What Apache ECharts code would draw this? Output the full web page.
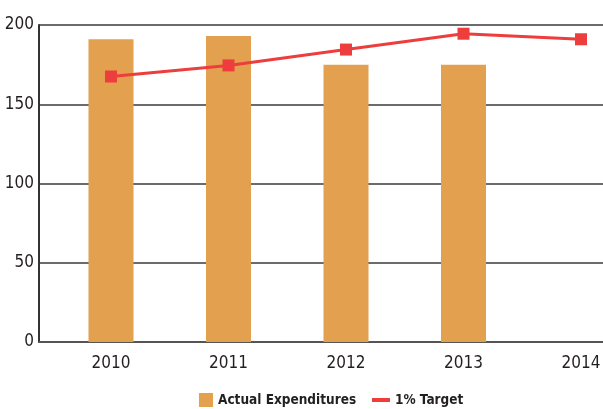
<!DOCTYPE html>
<html>
<head>
<meta charset="utf-8">
<title>Actual Expenditures vs 1% Target</title>
<script src="https://cdn.jsdelivr.net/npm/echarts@6/dist/echarts.min.js"></script>
</head>
<body style="margin:0;">
<div id="chart" style="width:603px;height:409px;"></div>
<script>
var years = ['2010', '2011', '2012', '2013', '2014'];
var actualExpenditures = [191, 193, 175, 175, null];
var onePercentTarget = [167.5, 174.5, 184.5, 194.5, 191];
var yTicks = [0, 50, 100, 150, 200];

var FONT = '"DejaVu Sans Condensed", "DejaVu Sans", sans-serif';
var TEXT = '#231f20';

var chart = echarts.init(document.getElementById('chart'), null, { renderer: 'canvas' });

chart.setOption({
    animation: false,
    backgroundColor: '#fff',
    grid: [
        // frame: y axis, gridlines and baseline
        { left: 39, right: 0, top: 25, bottom: 67, outerBoundsMode: 'none' },
        // data area: category bands (runs past the right edge)
        { left: 52.25, width: 587.5, top: 25, bottom: 67, outerBoundsMode: 'none' }
    ],
    xAxis: [
        {
            gridIndex: 0, type: 'value', min: 0, max: 1,
            axisLine: { show: true, lineStyle: { color: '#555', width: 2 } },
            axisTick: { show: false }, axisLabel: { show: false }, splitLine: { show: false }
        },
        {
            gridIndex: 1, type: 'category', data: years,
            axisLine: { show: false }, axisTick: { show: false },
            axisLabel: { color: TEXT, fontFamily: FONT, fontSize: 17, margin: 13 }
        }
    ],
    yAxis: [
        {
            gridIndex: 0, type: 'value', min: yTicks[0], max: yTicks[yTicks.length - 1], interval: 50,
            axisLine: { show: true, lineStyle: { color: '#333', width: 2 } },
            axisTick: { show: false },
            axisLabel: { color: TEXT, fontFamily: FONT, fontSize: 17, margin: 5, padding: [0, 0, 8, 0] },
            splitLine: { show: true, lineStyle: { color: '#3a3a3a', width: 1.5 } }
        },
        { gridIndex: 1, type: 'value', min: 0, max: 200, show: false }
    ],
    legend: [
        {
            left: 194, top: 388, itemWidth: 14, itemHeight: 14, icon: 'rect',
            data: ['Actual Expenditures'],
            textStyle: { color: TEXT, fontFamily: FONT, fontWeight: 'bold', fontSize: 13.5 }
        },
        {
            left: 367, top: 388, itemWidth: 18, itemHeight: 4, icon: 'rect',
            data: ['1% Target'],
            textStyle: { color: TEXT, fontFamily: FONT, fontWeight: 'bold', fontSize: 13.5 }
        }
    ],
    series: [
        {
            name: 'Actual Expenditures', type: 'bar',
            xAxisIndex: 1, yAxisIndex: 1,
            data: actualExpenditures, barWidth: 45,
            itemStyle: { color: '#E3A04E' }
        },
        {
            name: '1% Target', type: 'line',
            xAxisIndex: 1, yAxisIndex: 1,
            data: onePercentTarget,
            symbol: 'rect', symbolSize: 12,
            lineStyle: { color: '#EE3D3D', width: 3 },
            itemStyle: { color: '#EE3D3D' }
        }
    ]
});
</script>
</body>
</html>
